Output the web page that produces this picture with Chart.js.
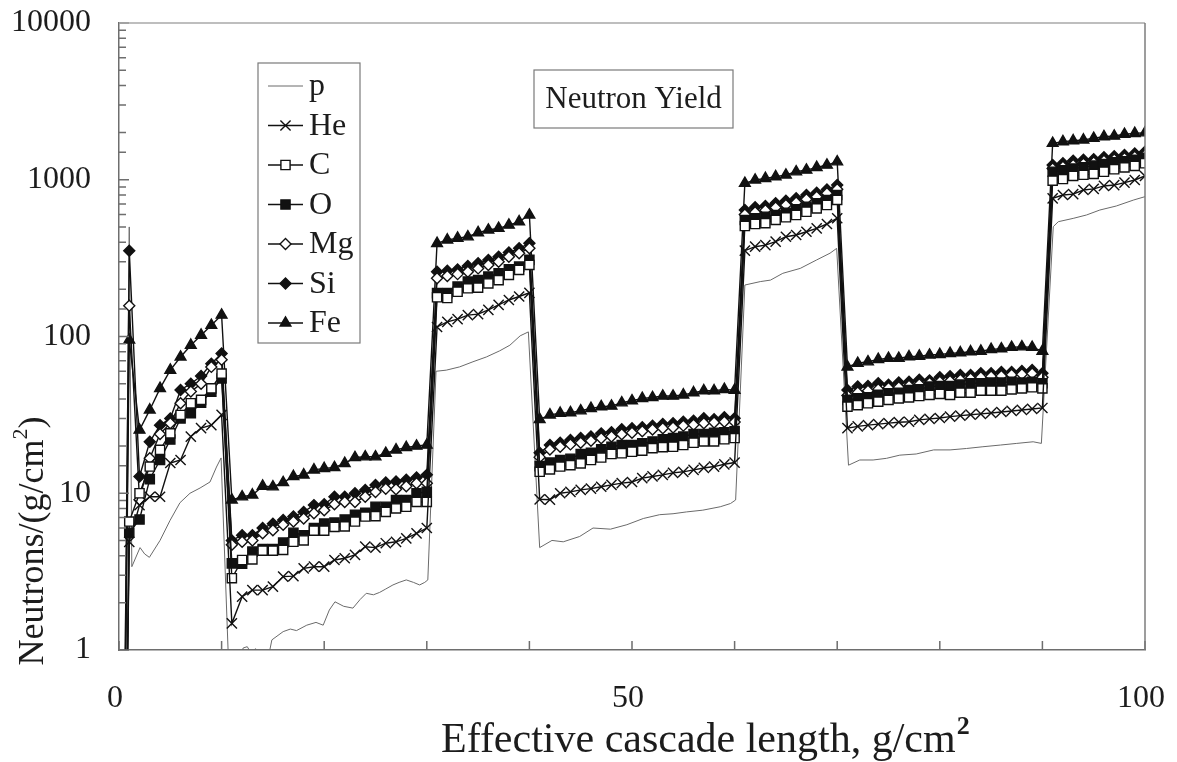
<!DOCTYPE html>
<html>
<head>
<meta charset="utf-8">
<title>Neutron Yield</title>
<script src="https://cdn.jsdelivr.net/npm/chart.js@4.4.1/dist/chart.umd.min.js"></script>
<style>
  html, body { margin: 0; padding: 0; background: #fff; }
  #wrap { width: 1177px; height: 762px; }
</style>
</head>
<body>
<div id="wrap"><canvas id="chart" width="1177" height="762"></canvas></div>
<script>
// effective cascade length, g/cm2 (marker series are sampled every 1 g/cm2)
var depth = [0, 1, 2, 3, 4, 5, 6, 7, 8, 9, 10,
  11, 12, 13, 14, 15, 16, 17, 18, 19, 20, 21, 22, 23, 24, 25, 26, 27, 28, 29, 30,
  31, 32, 33, 34, 35, 36, 37, 38, 39, 40,
  41, 42, 43, 44, 45, 46, 47, 48, 49, 50, 51, 52, 53, 54, 55, 56, 57, 58, 59, 60,
  61, 62, 63, 64, 65, 66, 67, 68, 69, 70,
  71, 72, 73, 74, 75, 76, 77, 78, 79, 80, 81, 82, 83, 84, 85, 86, 87, 88, 89, 90,
  91, 92, 93, 94, 95, 96, 97, 98, 99, 100];

// neutrons/(g/cm2); first value is below the axis (off scale)
var yieldHe = [0.0001, 4.9, 8.4, 9.5, 9.5, 15.6, 16.3, 23, 26, 27.2, 31.6,
  1.48, 2.19, 2.41, 2.41, 2.54, 2.94, 2.96, 3.32, 3.4, 3.4, 3.75, 3.85, 4.04, 4.56, 4.5, 4.8, 4.9, 5.16, 5.55, 6.0,
  115, 124, 129, 137, 139, 148, 159, 171, 180, 190,
  9.15, 9.1, 10, 10.2, 10.5, 10.7, 11.0, 11.3, 11.6, 11.8, 12.5, 12.8, 13.1, 13.5, 13.7, 14.1, 14.5, 14.8, 15.3, 15.7,
  353, 374, 383, 403, 433, 444, 466, 490, 522, 568,
  26, 26.7, 27.2, 27.6, 28, 28.4, 28.6, 29.4, 29.8, 30.2, 30.8, 31.3, 31.7, 32.1, 32.5, 33, 33.5, 34, 34.5, 35,
  761, 799, 810, 860, 875, 913, 925, 958, 996, 1057];

var yieldC = [0.0001, 6.6, 10, 14.8, 18.9, 24.1, 31.6, 37.5, 39.4, 46.7, 58,
  2.87, 3.75, 3.78, 4.3, 4.3, 4.35, 4.9, 5.0, 5.77, 5.77, 6.1, 6.15, 6.6, 7.1, 7.15, 7.6, 8.0, 8.2, 8.8, 8.8,
  178, 176, 193, 203, 205, 218, 229, 247, 266, 286,
  13.7, 14.2, 14.8, 15.1, 15.5, 16.3, 16.9, 17.8, 18, 18.4, 18.7, 19.4, 19.7, 19.8, 20.3, 21, 21.4, 21.4, 22.1, 22.5,
  507, 522, 528, 554, 576, 596, 625, 657, 690, 743,
  35.7, 36.5, 37.5, 38.4, 39.4, 40.3, 40.9, 41.7, 42.4, 43, 42.4, 43.8, 43.8, 45.1, 45.1, 45.1, 46, 46.7, 47.4, 46.7,
  986, 1010, 1057, 1075, 1090, 1125, 1167, 1200, 1225, 1274];

var yieldO = [0.0001, 5.6, 6.8, 12.3, 16.3, 22, 30, 32.4, 37.8, 44.5, 54,
  3.57, 3.55, 4.24, 4.4, 4.4, 4.84, 5.6, 5.4, 6.0, 6.4, 6.5, 6.8, 7.3, 7.5, 8.2, 8.2, 9.06, 9.06, 10, 10.2,
  189, 189, 208, 224, 229, 241, 253, 268, 279, 308,
  14.9, 15.7, 16.3, 16.6, 17.8, 18.1, 19.1, 19.8, 20.3, 20.3, 20.8, 21.4, 22.1, 22.5, 23, 23.9, 23.9, 24.3, 24.5, 24.8,
  554, 568, 581, 596, 616, 648, 673, 708, 743, 799,
  39.4, 40.3, 40.9, 42.4, 43.4, 43.8, 45.6, 46, 47.9, 48.3, 48.3, 49.3, 50.3, 50.3, 50.8, 50.8, 51.5, 50.8, 51.5, 50.3,
  1125, 1150, 1180, 1200, 1230, 1260, 1290, 1310, 1340, 1380];

var yieldMg = [0.0001, 157, 9.1, 16.7, 23.9, 28, 37.5, 44.5, 50, 64, 71,
  4.7, 4.9, 5.0, 5.55, 5.8, 6.3, 6.6, 6.9, 7.45, 7.8, 8.5, 8.8, 8.8, 9.5, 10.2, 10.7, 10.6, 11.1, 11.6, 11.6,
  235, 243, 250, 259, 272, 286, 300, 323, 340, 365,
  17, 19, 19.8, 20.5, 21, 21.6, 22.4, 23, 23.8, 24.3, 24.9, 25.5, 26, 26.3, 27, 27.4, 28, 28.3, 28.6, 28.5,
  600, 620, 640, 665, 690, 715, 750, 780, 820, 870,
  42, 44, 45, 46, 47, 47.5, 48.5, 49.5, 50.5, 51.5, 52, 53, 54, 55, 55.5, 56, 57, 57.5, 58, 55,
  1180, 1210, 1240, 1265, 1290, 1320, 1345, 1370, 1400, 1440];

var yieldSi = [0.0001, 352, 12.8, 21.3, 27.2, 30, 45.6, 50, 56, 67, 78,
  5.0, 5.4, 5.4, 6.0, 6.4, 6.75, 7.1, 7.6, 8.4, 8.5, 9.5, 9.5, 10, 10.5, 11.3, 11.7, 11.9, 12.2, 12.6, 13.1,
  259, 263, 268, 282, 293, 308, 323, 343, 365, 393,
  18.1, 20.3, 21, 21.9, 22.5, 23, 24.1, 24.5, 25.6, 26, 26.4, 27, 27.7, 28, 28.6, 29, 30.1, 29.7, 30.5, 30.1,
  641, 667, 680, 708, 735, 761, 799, 827, 868, 925,
  45.6, 47.9, 48.3, 50.3, 49.3, 50.8, 51.5, 52.9, 52.5, 54.9, 55.8, 56.8, 56.8, 58.2, 58.2, 59.4, 59.4, 60.3, 61.1, 58.2,
  1241, 1274, 1324, 1340, 1350, 1390, 1410, 1438, 1470, 1510];

var yieldFe = [0.0001, 95, 25.3, 34, 46.7, 61, 74, 88, 102, 118, 137,
  9.06, 9.5, 9.75, 11.1, 11.0, 11.7, 12.8, 13.1, 14.1, 14.4, 14.6, 15.5, 16.9, 17.1, 17.1, 18, 18.9, 19.6, 20, 20.3,
  393, 413, 424, 433, 460, 478, 490, 514, 540, 596,
  29.6, 31.6, 32.4, 32.7, 33.6, 34.8, 35.7, 36, 37.8, 38.9, 40.3, 40.8, 41.7, 41.7, 42.4, 43.8, 45.1, 45.1, 46, 45.5,
  949, 996, 1021, 1047, 1072, 1125, 1153, 1200, 1241, 1303,
  64, 67.5, 69, 71.5, 72.6, 72.6, 74.3, 75, 76.2, 76.8, 78.1, 78.8, 80, 80.7, 82.8, 83.5, 85.3, 86, 85.3, 80.7,
  1708, 1750, 1775, 1795, 1838, 1883, 1900, 1950, 1977, 1995];

// proton curve is a finer, unmarked line with its own sampling
var pDepth = [0, 1.0, 1.25, 2.05, 2.5, 2.96, 4.0, 4.97, 5.94, 6.92, 7.9, 8.87, 9.5, 9.95,
  10.8, 11.6, 12.1, 12.5, 12.9, 13.3, 13.8, 14.4, 14.9, 16.0, 16.7, 17.3, 18.3, 19.2, 19.9, 20.5, 21.05,
  21.9, 22.8, 23.5, 24.1, 24.8, 25.4, 26.0, 26.7, 27.3, 28.0, 28.7, 29.3, 29.8, 30.1,
  30.9, 31.9, 33.2, 34.5, 35.8, 37.1, 38.1, 39.1, 39.9,
  41.0, 42.2, 43.3, 44.9, 46.2, 47.9, 49.5, 51.1, 52.7, 54.0, 55.3, 56.9, 58.6, 59.6, 60.1,
  61.0, 62.5, 63.5, 64.7, 66.4, 68.0, 69.3, 69.95,
  71.1, 72.2, 73.5, 74.8, 76.1, 77.7, 79.4, 81.0, 82.6, 84.2, 85.9, 87.5, 89.1, 89.9,
  91.06, 91.55, 93.0, 94.3, 95.6, 97.2, 98.9, 100];
var pYield = [0.0001, 500, 3.4, 4.5, 4.1, 3.9, 5.0, 6.7, 8.7, 10, 10.8, 11.8, 14.7, 16.8,
  0.5, 0.8, 1.03, 1.05, 0.95, 1.02, 0.85, 0.8, 1.16, 1.31, 1.36, 1.33, 1.44, 1.5, 1.44, 1.8, 2.03,
  1.9, 1.85, 2.1, 2.3, 2.25, 2.33, 2.45, 2.6, 2.7, 2.8, 2.7, 2.6, 2.7, 2.8,
  60, 61, 64, 69, 74, 81, 88, 101, 107,
  4.5, 5.0, 4.9, 5.3, 6.0, 5.9, 6.3, 6.9, 7.3, 7.4, 7.6, 7.8, 8.2, 8.6, 9.06,
  213, 224, 229, 253, 272, 308, 340, 365,
  15.1, 16.3, 16.3, 16.7, 17.5, 17.8, 18.9, 18.9, 19.3, 19.8, 20.3, 20.8, 21.3, 20.8,
  502, 540, 567, 596, 641, 680, 743, 780];

var xTickLabels = [0, 50, 100];
var yTickLabels = [1, 10, 100, 1000, 10000];

var serif = '"Liberation Serif", "Times New Roman", serif';
var ink = '#1c1c1c';
var axisGray = '#6e6e6e';

function pairs(xs, ys) {
  return xs.map(function (x, i) { return { x: x, y: ys[i] }; });
}

function marked(label, ys, style, radius, fill) {
  return {
    label: label,
    data: pairs(depth, ys),
    borderColor: '#111',
    borderWidth: 1.4,
    pointStyle: style,
    pointRadius: radius,
    pointBorderWidth: 1.4,
    pointBorderColor: '#111',
    pointBackgroundColor: fill,
    tension: 0
  };
}

var datasets = [
  {
    label: 'p',
    data: pairs(pDepth, pYield),
    borderColor: '#6a6a6a',
    borderWidth: 1,
    pointRadius: 0,
    pointStyle: false,
    tension: 0,
    order: 10
  },
  marked('He', yieldHe, 'crossRot', 7.2, '#111'),
  marked('C', yieldC, 'rect', 6.5, '#fff'),
  marked('O', yieldO, 'rect', 6.5, '#111'),
  marked('Mg', yieldMg, 'rectRot', 5.5, '#fff'),
  marked('Si', yieldSi, 'rectRot', 5.5, '#111'),
  marked('Fe', yieldFe, 'triangle', 6.2, '#111')
];

function drawMarker(ctx, ds, x, y) {
  ctx.fillStyle = ds.pointBackgroundColor;
  ctx.strokeStyle = ds.pointBorderColor;
  ctx.lineWidth = ds.pointBorderWidth;
  Chart.helpers.drawPoint(ctx, {
    pointStyle: ds.pointStyle, radius: ds.pointRadius,
    borderWidth: ds.pointBorderWidth, rotation: 0
  }, x, y);
}

// inward tick marks, top/right frame, legend box and the title box
var decorations = {
  id: 'decorations',
  afterDraw: function (chart) {
    var ctx = chart.ctx;
    var a = chart.chartArea;
    var xs = chart.scales.x, ys = chart.scales.y;
    ctx.save();

    ctx.strokeStyle = axisGray;
    ctx.lineWidth = 1.5;
    ctx.beginPath();
    xs.ticks.forEach(function (t) {
      var px = xs.getPixelForValue(t.value);
      ctx.moveTo(px, a.bottom);
      ctx.lineTo(px, a.bottom - 9);
    });
    ys.ticks.forEach(function (t) {
      var py = ys.getPixelForValue(t.value);
      var major = yTickLabels.indexOf(t.value) >= 0;
      ctx.moveTo(a.left, py);
      ctx.lineTo(a.left + (major ? 10 : 7), py);
    });
    ctx.stroke();

    ctx.strokeStyle = '#a8a8a8';
    ctx.beginPath();
    ctx.moveTo(a.left, a.top);
    ctx.lineTo(a.right, a.top);
    ctx.stroke();
    ctx.strokeStyle = '#7c7c7c';
    ctx.beginPath();
    ctx.moveTo(a.right, a.top);
    ctx.lineTo(a.right, a.bottom);
    ctx.stroke();

    // legend
    var lx = a.left + 139, ly = a.top + 40, lw = 102, lh = 280;
    ctx.fillStyle = '#fff';
    ctx.fillRect(lx, ly, lw, lh);
    ctx.strokeStyle = '#7a7a7a';
    ctx.lineWidth = 1.2;
    ctx.strokeRect(lx, ly, lw, lh);
    ctx.font = '32px ' + serif;
    ctx.textBaseline = 'middle';
    ctx.textAlign = 'left';
    chart.data.datasets.forEach(function (ds, i) {
      var cy = ly + 23 + i * 39.5;
      ctx.strokeStyle = ds.borderColor;
      ctx.lineWidth = ds.borderWidth;
      ctx.beginPath();
      ctx.moveTo(lx + 10, cy);
      ctx.lineTo(lx + 45, cy);
      ctx.stroke();
      if (ds.pointRadius > 0) drawMarker(ctx, ds, lx + 27.5, cy);
      ctx.fillStyle = ink;
      ctx.fillText(ds.label, lx + 51, cy + 1);
    });

    // "Neutron Yield" box
    var tx = a.left + 415, ty = a.top + 47;
    ctx.fillStyle = '#fff';
    ctx.fillRect(tx, ty, 199, 58);
    ctx.strokeStyle = '#7a7a7a';
    ctx.lineWidth = 1.2;
    ctx.strokeRect(tx, ty, 199, 58);
    ctx.fillStyle = ink;
    ctx.font = '31px ' + serif;
    ctx.textAlign = 'center';
    ctx.fillText('Neutron Yield', tx + 99.5, ty + 30);

    // axis titles with a raised bold "2"
    ctx.textAlign = 'left';
    ctx.textBaseline = 'alphabetic';
    ctx.font = '42px ' + serif;
    var xt = 'Effective cascade length, g/cm';
    var w = ctx.measureText(xt).width;
    var x0 = a.left + 322;
    ctx.fillText(xt, x0, 752);
    ctx.font = 'bold 26px ' + serif;
    ctx.fillText('2', x0 + w + 1, 734);

    ctx.translate(32, 541);
    ctx.rotate(-Math.PI / 2);
    ctx.font = '36px ' + serif;
    var yt = 'Neutrons/(g/cm';
    var wy = ctx.measureText(yt).width;
    ctx.font = '22px ' + serif;
    var w2 = ctx.measureText('2').width;
    ctx.font = '36px ' + serif;
    var wc = ctx.measureText(')').width;
    var total = wy + w2 + wc;
    var s = -total / 2;
    ctx.textBaseline = 'middle';
    ctx.fillText(yt, s, 2);
    ctx.font = '22px ' + serif;
    ctx.fillText('2', s + wy, -11);
    ctx.font = '36px ' + serif;
    ctx.fillText(')', s + wy + w2, 2);

    ctx.restore();
  }
};

new Chart(document.getElementById('chart'), {
  type: 'line',
  data: { datasets: datasets },
  options: {
    responsive: false,
    animation: false,
    events: [],
    layout: { padding: { top: 23, right: 32, left: 0, bottom: 0 } },
    plugins: { legend: { display: false }, tooltip: { enabled: false } },
    scales: {
      x: {
        type: 'linear',
        min: 0,
        max: 100,
        afterFit: function (s) {
          s.height = 112;
          s.paddingLeft = 0; s.paddingRight = 0;
        },
        grid: { display: false },
        border: { display: true, color: axisGray, width: 1.5 },
        ticks: {
          stepSize: 10,
          autoSkip: false,
          maxRotation: 0,
          padding: 21,
          labelOffset: -4,
          color: ink,
          font: { family: serif, size: 32 },
          callback: function (v) { return xTickLabels.indexOf(v) >= 0 ? String(v) : ''; }
        }
      },
      y: {
        type: 'logarithmic',
        min: 1,
        max: 10000,
        afterFit: function (s) {
          s.width = 119;
          s.paddingTop = 0; s.paddingBottom = 0;
        },
        grid: { display: false },
        border: { display: true, color: axisGray, width: 1.5 },
        ticks: {
          autoSkip: false,
          padding: 20,
          color: ink,
          font: { family: serif, size: 32 },
          callback: function (v) { return yTickLabels.indexOf(v) >= 0 ? String(v) : ''; }
        }
      }
    }
  },
  plugins: [decorations]
});
</script>
</body>
</html>
